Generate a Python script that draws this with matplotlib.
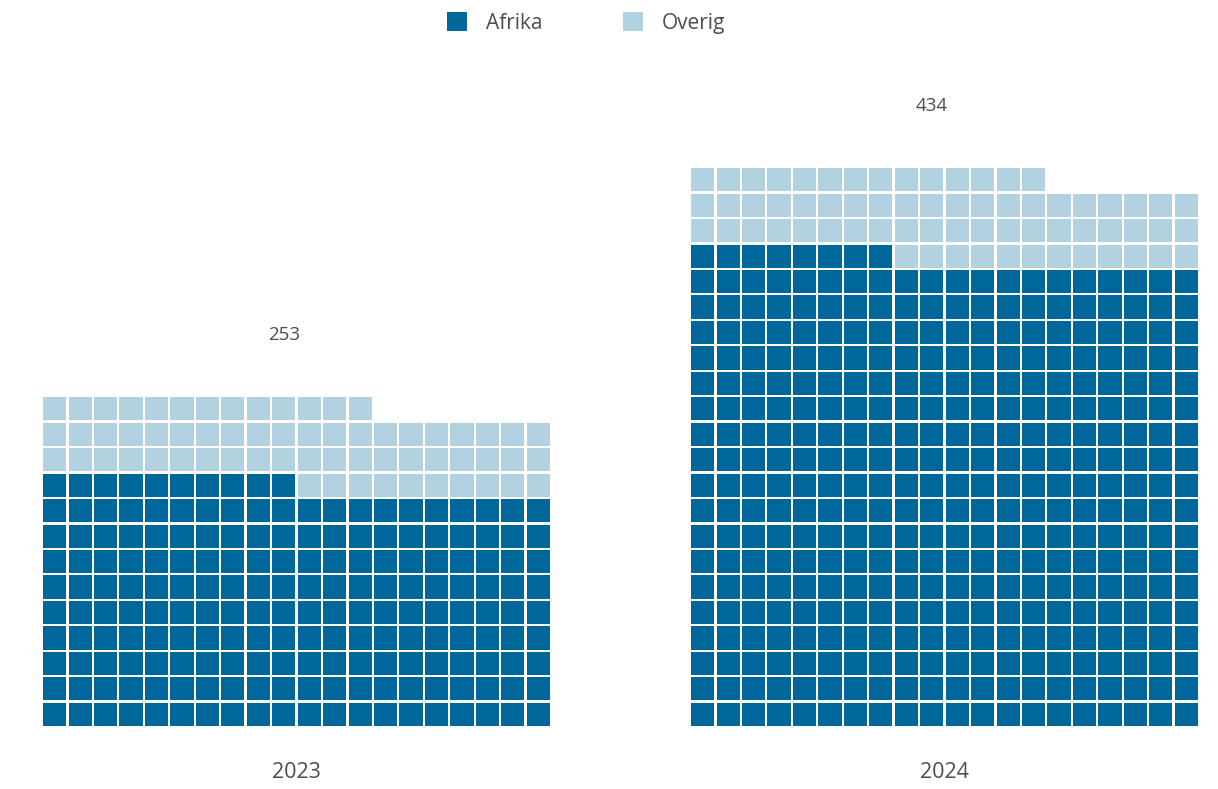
import matplotlib
matplotlib.use("Agg")
import matplotlib.pyplot as plt
from matplotlib.patches import Rectangle

# data
years = ["2023", "2024"]
afrika = [190, 368]
overig = [63, 66]
series_names = ["Afrika", "Overig"]

DARK = "#00679a"
LIGHT = "#b3d2e1"
TEXT = "#4d4d4d"
N_COLS = 20
N_ROWS_MAX = 22
GAP = 0.09

plt.rcParams["font.family"] = ["Open Sans", "DejaVu Sans"]

W, H = 1218, 789
fig = plt.figure(figsize=(W / 100, H / 100), dpi=100)

cell_px = 509 / N_COLS
lefts = [42, 690]
bottom_px = 727

for left, year, a, o in zip(lefts, years, afrika, overig):
    ax = fig.add_axes([left / W, (H - bottom_px) / H,
                       N_COLS * cell_px / W, N_ROWS_MAX * cell_px / H])
    ax.set_xlim(0, N_COLS)
    ax.set_ylim(0, N_ROWS_MAX)
    ax.axis("off")
    total = a + o
    for i in range(total):
        row, col = divmod(i, N_COLS)
        color = DARK if i < a else LIGHT
        ax.add_patch(Rectangle((col + GAP / 2, row + GAP / 2), 1 - GAP, 1 - GAP,
                               facecolor=color, edgecolor="none"))
    top_rows = (total + N_COLS - 1) // N_COLS
    ax.text(9.5, top_rows + 2.4, str(total), ha="center", va="center",
            fontsize=13.5, color=TEXT, clip_on=False)
    ax.text(N_COLS / 2, -1.8, year, ha="center", va="center",
            fontsize=15.5, color=TEXT, clip_on=False)

handles = [Rectangle((0, 0), 1, 1, facecolor=c, edgecolor="none") for c in (DARK, LIGHT)]
fig.legend(handles, series_names, loc="center", bbox_to_anchor=(586 / W, 1 - 23 / H),
           ncol=2, frameon=False, fontsize=15, labelcolor=TEXT,
           handlelength=0.96, handleheight=0.96, handletextpad=0.9, columnspacing=3.85,
           borderpad=0)

fig.savefig("out.png", dpi=100)
